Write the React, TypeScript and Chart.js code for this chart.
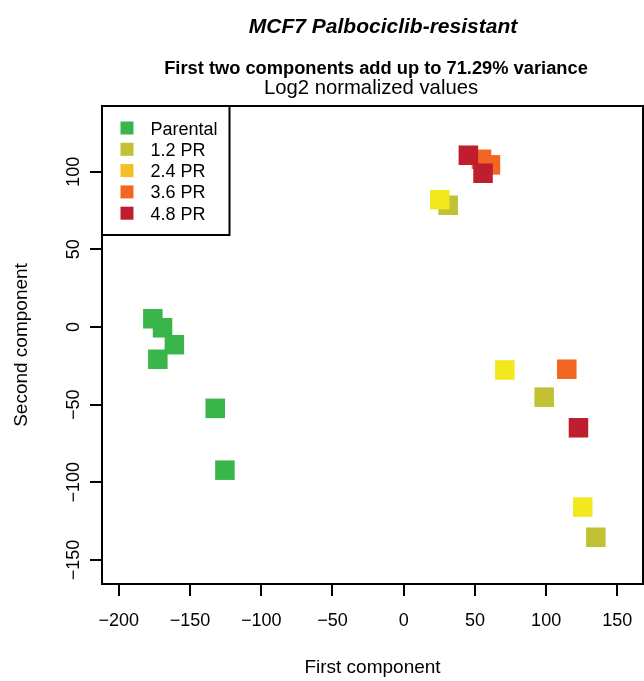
import { useEffect, useRef } from "react";
import { Chart, registerables } from "chart.js";

Chart.register(...registerables);

// ---- data ----
const groups = ["Parental", "1.2 PR", "2.4 PR", "3.6 PR", "4.8 PR"];
const pointColors = ["#39B54A", "#C1C134", "#F3E81D", "#F26522", "#BE1E2D"];
const legendColors = ["#39B54A", "#C1C134", "#F4BE28", "#F26522", "#BE1E2D"];

const parentalX = [-176.1, -169.3, -161.0, -172.6, -132.3, -125.5];
const parentalY = [5.3, -0.5, -11.4, -20.8, -52.4, -92.2];
const pr12X = [31.2, 98.6, 134.9];
const pr12Y = [78.4, -45.2, -135.4];
const pr24X = [25.3, 71.0, 125.7];
const pr24Y = [82.0, -27.7, -116.0];
const pr36X = [54.6, 60.9, 114.5];
const pr36Y = [108.0, 104.4, -27.2];
const pr48X = [45.4, 55.7, 122.7];
const pr48Y = [110.6, 99.0, -64.9];

const xTicks = [-200, -150, -100, -50, 0, 50, 100, 150];
const yTicks = [-150, -100, -50, 0, 50, 100];

const mainTitle = "MCF7 Palbociclib-resistant";
const subTitle = "First two components add up to 71.29% variance";
const subTitle2 = "Log2 normalized values";
const xTitle = "First component";
const yTitle = "Second component";

const FONT = "'Liberation Sans', Arial, Helvetica, sans-serif";

const fmt = (v: number) => (v < 0 ? "\u2212" + Math.abs(v) : String(v));

const seriesX = [parentalX, pr12X, pr24X, pr36X, pr48X];
const seriesY = [parentalY, pr12Y, pr24Y, pr36Y, pr48Y];

const overlayPlugin = {
  id: "overlay",
  afterDraw(chart: any) {
    const ctx: CanvasRenderingContext2D = chart.ctx;
    const a = chart.chartArea;
    ctx.save();
    ctx.strokeStyle = "#000";
    ctx.lineWidth = 2;
    ctx.strokeRect(a.left, a.top, a.right - a.left, a.bottom - a.top);

    ctx.fillStyle = "#000";
    ctx.textAlign = "center";
    ctx.textBaseline = "alphabetic";
    ctx.font = `italic bold 21px ${FONT}`;
    ctx.fillText(mainTitle, 383, 33);
    ctx.font = `bold 18.3px ${FONT}`;
    ctx.fillText(subTitle, 376, 74);
    ctx.font = `20.3px ${FONT}`;
    ctx.fillText(subTitle2, 371, 94);

    // axis titles
    ctx.font = `19px ${FONT}`;
    ctx.fillText(xTitle, (a.left + a.right) / 2, 673);
    ctx.save();
    ctx.translate(27, (a.top + a.bottom) / 2);
    ctx.rotate(-Math.PI / 2);
    ctx.fillText(yTitle, 0, 0);
    ctx.restore();

    // y tick labels (rotated, R style)
    const ys = chart.scales.y;
    ctx.font = `18px ${FONT}`;
    for (const t of ys.ticks) {
      const py = ys.getPixelForValue(t.value);
      ctx.save();
      ctx.translate(79, py);
      ctx.rotate(-Math.PI / 2);
      ctx.fillText(fmt(t.value), 0, 0);
      ctx.restore();
    }

    // legend
    const lx = a.left;
    const ly = a.top;
    ctx.lineWidth = 2;
    ctx.strokeRect(lx, ly, 127.5, 129);
    ctx.textAlign = "left";
    ctx.font = `18px ${FONT}`;
    groups.forEach((g, i) => {
      const cy = ly + 22 + i * 21.3;
      ctx.fillStyle = legendColors[i];
      ctx.fillRect(lx + 18.5, cy - 6.5, 13, 13);
      ctx.fillStyle = "#000";
      ctx.fillText(g, lx + 48.5, cy + 6.5);
    });
    ctx.restore();
  },
};

export default function App() {
  const ref = useRef<HTMLCanvasElement | null>(null);
  useEffect(() => {
    if (!ref.current) return;
    const datasets = groups.map((g, i) => ({
      label: g,
      data: seriesX[i].map((x, j) => ({ x, y: seriesY[i][j] })),
      backgroundColor: pointColors[i],
      borderColor: pointColors[i],
      borderWidth: 0,
      pointStyle: "rect",
      pointRadius: 13.8,
      pointHoverRadius: 13.8,
      order: groups.length - i,
    }));
    const chart = new Chart(ref.current, {
      type: "scatter",
      data: { datasets },
      options: {
        responsive: false,
        animation: false,
        events: [],
        layout: { autoPadding: false, padding: { top: 106, right: 1, left: 0, bottom: 0 } },
        plugins: {
          legend: { display: false },
          tooltip: { enabled: false },
          title: { display: false },
        },
        scales: {
          x: {
            type: "linear",
            min: -211.8,
            max: 168.0,
            afterBuildTicks: (s: any) => {
              s.ticks = xTicks.map((v) => ({ value: v }));
            },
            afterFit: (s: any) => {
              s.height = 97;
              s.paddingLeft = 0;
              s.paddingRight = 0;
            },
            border: { display: false },
            grid: {
              drawOnChartArea: false,
              drawTicks: true,
              tickLength: 12,
              color: "#000",
              lineWidth: 2,
            },
            ticks: {
              color: "#000",
              font: { family: FONT, size: 18 },
              padding: 14,
              maxRotation: 0,
              minRotation: 0,
              callback: (v: any) => fmt(Number(v)),
            },
          },
          y: {
            type: "linear",
            min: -165.5,
            max: 142.3,
            afterBuildTicks: (s: any) => {
              s.ticks = yTicks.map((v) => ({ value: v }));
            },
            afterFit: (s: any) => {
              s.width = 102;
              s.paddingTop = 0;
              s.paddingBottom = 0;
            },
            border: { display: false },
            grid: {
              drawOnChartArea: false,
              drawTicks: true,
              tickLength: 12,
              color: "#000",
              lineWidth: 2,
            },
            ticks: { display: false },
          },
        },
      },
      plugins: [overlayPlugin],
    } as any);
    return () => chart.destroy();
  }, []);
  return (
    <div style={{ position: "fixed", left: 0, top: 0, width: 644, height: 681, background: "#fff" }}>
      <canvas ref={ref} width={644} height={681} style={{ display: "block" }} />
    </div>
  );
}
